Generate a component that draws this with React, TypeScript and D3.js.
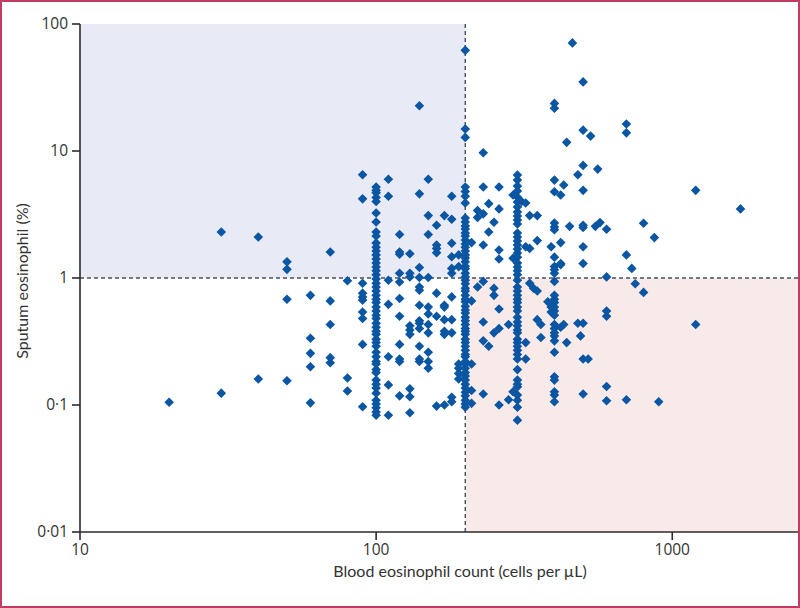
import * as d3 from "d3";

// blood eosinophil count (cells per µL), one entry per column of points
const bloodCounts = [
  20, 30, 40, 50, 60, 70, 80, 90, 100, 110, 120, 130, 140, 150, 160, 170, 180, 190,
  200, 210, 220, 230, 240, 250, 260, 280, 290, 300, 310, 320, 330, 340, 350, 360,
  380, 390, 400, 420, 430, 440, 450, 460, 480, 490, 500, 520, 530, 550, 560, 570,
  600, 700, 730, 750, 800, 870, 900, 1200, 1700,
];

// sputum eosinophil (%) for each blood count above
const sputumByCount: number[][] = [
  [0.105],
  [2.3, 0.124],
  [2.1, 0.16],
  [1.34, 1.17, 0.68, 0.155],
  [0.73, 0.335, 0.255, 0.2, 0.104],
  [1.6, 0.66, 0.43, 0.236, 0.215],
  [0.95, 0.163, 0.129],
  [6.5, 4.2, 0.91, 0.76, 0.71, 0.67, 0.54, 0.48, 0.3, 0.097],
  [
    5.2, 4.9, 4.7, 4.3, 4.0, 3.25, 2.76, 2.3, 2.14, 1.89, 1.75, 1.63, 1.52, 1.41, 1.31,
    1.22, 1.14, 1.06, 0.98, 0.91, 0.85, 0.79, 0.73, 0.68, 0.64, 0.59, 0.55, 0.51, 0.48,
    0.44, 0.41, 0.38, 0.36, 0.33, 0.31, 0.29, 0.26, 0.24, 0.22, 0.21, 0.19, 0.18, 0.157,
    0.146, 0.136, 0.124, 0.109, 0.102, 0.095, 0.088, 0.083,
  ],
  [6.0, 4.4, 0.96, 0.62, 0.24, 0.144, 0.083],
  [2.2, 1.6, 1.54, 1.09, 0.93, 0.69, 0.5, 0.3, 0.23, 0.22, 0.118],
  [1.55, 1.09, 1.02, 0.42, 0.39, 0.36, 0.134, 0.116, 0.087],
  [22.7, 4.6, 1.21, 1.01, 0.85, 0.8, 0.61, 0.46, 0.44, 0.4, 0.29, 0.23, 0.22],
  [6.0, 3.1, 2.2, 1.01, 0.59, 0.52, 0.43, 0.37, 0.26, 0.22, 0.195],
  [2.6, 1.82, 1.71, 1.58, 0.76, 0.5, 0.098],
  [3.1, 0.61, 0.59, 0.47, 0.38, 0.36, 0.1],
  [4.4, 2.9, 1.88, 1.47, 1.19, 1.09, 0.71, 0.47, 0.37, 0.106, 0.115],
  [1.52, 1.23, 0.21, 0.195, 0.177, 0.16],
  [
    62, 14.9, 12.8, 5.2, 4.8, 4.4, 3.9, 2.97, 2.76, 2.57, 2.43, 2.26, 2.14, 1.99, 1.85,
    1.75, 1.63, 1.52, 1.44, 1.34, 1.24, 1.18, 1.09, 1.02, 0.96, 0.9, 0.83, 0.79, 0.73,
    0.68, 0.65, 0.6, 0.56, 0.53, 0.49, 0.46, 0.43, 0.4, 0.38, 0.36, 0.33, 0.31, 0.29,
    0.27, 0.25, 0.24, 0.22, 0.21, 0.195, 0.18, 0.169, 0.157, 0.146, 0.136, 0.126, 0.118,
    0.109, 0.102, 0.096,
  ],
  [1.9, 0.66, 0.21, 0.13, 0.103],
  [3.4, 3.0, 0.85],
  [9.7, 5.2, 3.2, 1.82, 0.94, 0.45, 0.32, 0.122],
  [3.85, 2.3, 0.29],
  [2.75, 0.83, 0.73, 0.37],
  [5.2, 3.5, 1.66, 1.41, 0.57, 0.4, 0.1],
  [0.43, 0.11],
  [4.5, 1.43, 0.127],
  [
    6.47, 5.91, 5.3, 4.84, 4.34, 3.97, 3.62, 3.31, 3.08, 2.86, 2.66, 2.26, 2.1, 1.96, 1.82,
    1.69, 1.57, 1.46, 1.31, 1.22, 1.14, 1.06, 0.96, 0.85, 0.79, 0.73, 0.68, 0.64, 0.59,
    0.55, 0.49, 0.45, 0.42, 0.39, 0.37, 0.33, 0.31, 0.29, 0.27, 0.25, 0.23, 0.19, 0.157,
    0.146, 0.139, 0.12, 0.109, 0.096, 0.076,
  ],
  [4.0],
  [3.9, 1.76, 0.31, 0.23],
  [3.1, 1.71, 0.91],
  [0.83],
  [3.1, 1.97, 0.79, 0.47],
  [0.43, 0.34],
  [0.65],
  [1.76, 0.59, 0.54],
  [
    23.7, 21.7, 5.9, 4.78, 2.71, 2.52, 2.4, 1.46, 1.23, 1.16, 1.09, 0.94, 0.73, 0.68, 0.64,
    0.59, 0.55, 0.51, 0.43, 0.4, 0.37, 0.35, 0.32, 0.26, 0.167, 0.157, 0.127, 0.12, 0.106,
  ],
  [4.5, 1.9, 1.3, 1.27, 0.41],
  [5.4, 0.43],
  [11.7, 0.31],
  [2.55],
  [71],
  [6.5, 0.44],
  [0.35],
  [35, 14.6, 7.7, 4.9, 2.6, 2.5, 1.76, 1.3, 0.44, 0.23, 0.122],
  [0.23],
  [13.1],
  [2.55],
  [7.2],
  [2.73],
  [2.42, 1.02, 0.55, 0.5, 0.14, 0.108],
  [16.3, 13.9, 1.52, 0.11],
  [1.19],
  [0.9],
  [2.7, 0.77],
  [2.08],
  [0.106],
  [4.9, 0.43],
  [3.5],
];

const xTickValues = [10, 100, 1000];
const xTickLabels = ["10", "100", "1000"];
const yTickValues = [0.01, 0.1, 1, 10, 100];
const yTickLabels = ["0·01", "0·1", "1", "10", "100"];

const bloodCutoff = 200;
const sputumCutoff = 1;

const W = 800;
const H = 608;
const M = { top: 24, right: 0, bottom: 76, left: 80 };

const tickFont = "'Open Sans', 'Noto Sans', sans-serif";
const titleFont = "Lato, 'Open Sans', sans-serif";

export default function App() {
  const x = d3.scaleLog().domain([10, 2700]).range([M.left, W - M.right]);
  const y = d3.scaleLog().domain([0.01, 100]).range([H - M.bottom, M.top]);
  const [xMin, xMax] = x.domain();
  const [yMin, yMax] = y.domain();

  const diamond = d3.symbol(d3.symbolSquare, 46)() ?? "";
  const points = bloodCounts.flatMap((b, i) => sputumByCount[i].map((s) => [b, s] as const));

  const axisColor = "#2b2b2b";
  const dashColor = "#44525c";

  return (
    <svg
      width={W}
      height={H}
      viewBox={`0 0 ${W} ${H}`}
      style={{ position: "absolute", left: 0, top: 0, background: "#fff" }}
    >
      {/* shaded quadrants */}
      <rect
        x={x(xMin)}
        y={y(yMax)}
        width={x(bloodCutoff) - x(xMin)}
        height={y(sputumCutoff) - y(yMax)}
        fill="#e8eaf6"
      />
      <rect
        x={x(bloodCutoff)}
        y={y(sputumCutoff)}
        width={x(xMax) - x(bloodCutoff)}
        height={y(yMin) - y(sputumCutoff)}
        fill="#f9eaea"
      />

      {/* cut-off lines */}
      <line
        x1={x(bloodCutoff)}
        x2={x(bloodCutoff)}
        y1={y(yMax)}
        y2={y(yMin)}
        stroke={dashColor}
        strokeWidth={1.4}
        strokeDasharray="4 3"
      />
      <line
        x1={x(xMin)}
        x2={x(xMax)}
        y1={y(sputumCutoff)}
        y2={y(sputumCutoff)}
        stroke={dashColor}
        strokeWidth={1.4}
        strokeDasharray="4 3"
      />

      {/* points */}
      <g fill="#0a56a2">
        {points.map(([b, s], i) => (
          <path key={i} d={diamond} transform={`translate(${x(b)},${y(s)}) rotate(45)`} />
        ))}
      </g>

      {/* axes */}
      <g stroke={axisColor} strokeWidth={1.6}>
        <line x1={x(xMin)} x2={x(xMin)} y1={y(yMax)} y2={y(yMin)} />
        <line x1={x(xMin)} x2={x(xMax)} y1={y(yMin)} y2={y(yMin)} />
        {yTickValues.map((v) => (
          <line key={`yt${v}`} x1={x(xMin) - 8} x2={x(xMin)} y1={y(v)} y2={y(v)} />
        ))}
        {xTickValues.map((v) => (
          <line key={`xt${v}`} x1={x(v)} x2={x(v)} y1={y(yMin)} y2={y(yMin) + 8} />
        ))}
      </g>

      <g fontFamily={tickFont} fontSize={15.5} fill="#333">
        {yTickValues.map((v, i) => (
          <text key={`yl${v}`} x={x(xMin) - 12} y={y(v)} dy="0.35em" textAnchor="end">
            {yTickLabels[i]}
          </text>
        ))}
        {xTickValues.map((v, i) => (
          <text key={`xl${v}`} x={x(v)} y={y(yMin) + 23} textAnchor="middle">
            {xTickLabels[i]}
          </text>
        ))}
      </g>

      <g fontFamily={titleFont} fontSize={16} fill="#333">
        <text x={460} y={577} textAnchor="middle">
          Blood eosinophil count (cells per µL)
        </text>
        <text transform="translate(28,281) rotate(-90)" textAnchor="middle">
          Sputum eosinophil (%)
        </text>
      </g>

      {/* outer frame */}
      <rect x={1} y={1} width={W - 2} height={H - 2} fill="none" stroke="#c03c62" strokeWidth={2} />
    </svg>
  );
}
